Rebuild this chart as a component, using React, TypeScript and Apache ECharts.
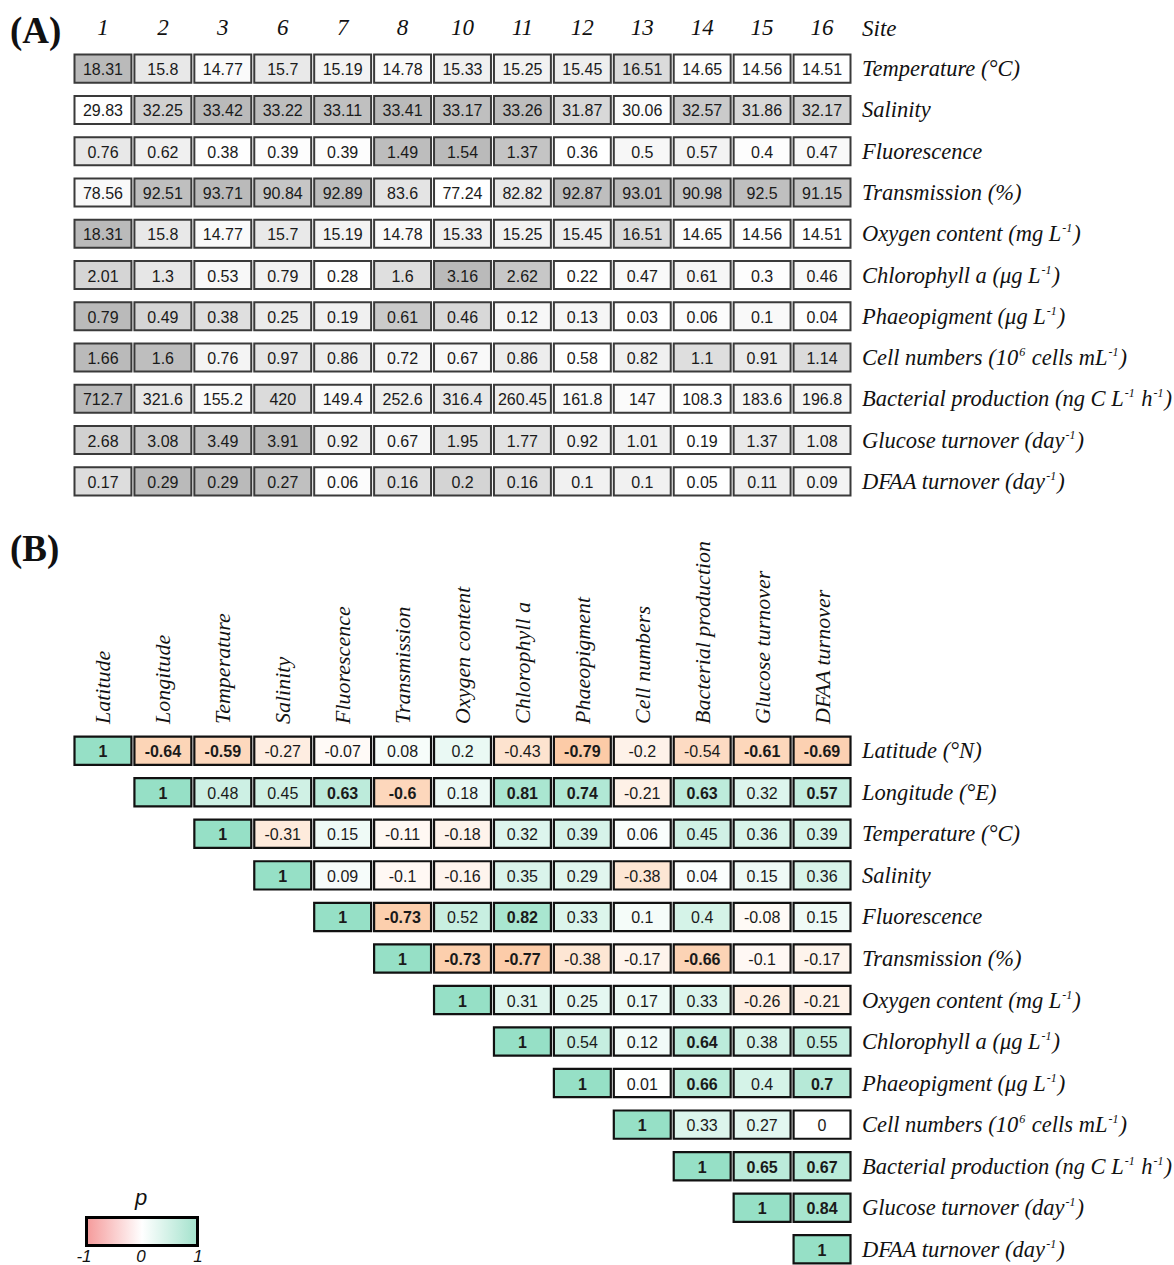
import React, { useEffect, useRef } from "react";
import * as echarts from "echarts";

// ---------- Panel A data ----------
const sites = ["1", "2", "3", "6", "7", "8", "10", "11", "12", "13", "14", "15", "16"];
const paramLabels = [
  "Temperature (°C)",
  "Salinity",
  "Fluorescence",
  "Transmission (%)",
  "Oxygen content (mg L⁻¹)",
  "Chlorophyll a (μg L⁻¹)",
  "Phaeopigment (μg L⁻¹)",
  "Cell numbers (10⁶ cells mL⁻¹)",
  "Bacterial production (ng C L⁻¹ h⁻¹)",
  "Glucose turnover (day⁻¹)",
  "DFAA turnover (day⁻¹)",
];
const temperature = [18.31, 15.8, 14.77, 15.7, 15.19, 14.78, 15.33, 15.25, 15.45, 16.51, 14.65, 14.56, 14.51];
const salinity = [29.83, 32.25, 33.42, 33.22, 33.11, 33.41, 33.17, 33.26, 31.87, 30.06, 32.57, 31.86, 32.17];
const fluorescence = [0.76, 0.62, 0.38, 0.39, 0.39, 1.49, 1.54, 1.37, 0.36, 0.5, 0.57, 0.4, 0.47];
const transmission = [78.56, 92.51, 93.71, 90.84, 92.89, 83.6, 77.24, 82.82, 92.87, 93.01, 90.98, 92.5, 91.15];
const oxygen = [18.31, 15.8, 14.77, 15.7, 15.19, 14.78, 15.33, 15.25, 15.45, 16.51, 14.65, 14.56, 14.51];
const chlorophyll = [2.01, 1.3, 0.53, 0.79, 0.28, 1.6, 3.16, 2.62, 0.22, 0.47, 0.61, 0.3, 0.46];
const phaeopigment = [0.79, 0.49, 0.38, 0.25, 0.19, 0.61, 0.46, 0.12, 0.13, 0.03, 0.06, 0.1, 0.04];
const cellNumbers = [1.66, 1.6, 0.76, 0.97, 0.86, 0.72, 0.67, 0.86, 0.58, 0.82, 1.1, 0.91, 1.14];
const bacterialProd = [712.7, 321.6, 155.2, 420, 149.4, 252.6, 316.4, 260.45, 161.8, 147, 108.3, 183.6, 196.8];
const glucoseTurn = [2.68, 3.08, 3.49, 3.91, 0.92, 0.67, 1.95, 1.77, 0.92, 1.01, 0.19, 1.37, 1.08];
const dfaaTurn = [0.17, 0.29, 0.29, 0.27, 0.06, 0.16, 0.2, 0.16, 0.1, 0.1, 0.05, 0.11, 0.09];
const panelARows = [
  temperature, salinity, fluorescence, transmission, oxygen, chlorophyll,
  phaeopigment, cellNumbers, bacterialProd, glucoseTurn, dfaaTurn,
];

// ---------- Panel B data ----------
const corrColLabels = [
  "Latitude", "Longitude", "Temperature", "Salinity", "Fluorescence", "Transmission",
  "Oxygen content", "Chlorophyll a", "Phaeopigment", "Cell numbers",
  "Bacterial production", "Glucose turnover", "DFAA turnover",
];
const corrRowLabels = [
  "Latitude (°N)", "Longitude (°E)", "Temperature (°C)", "Salinity", "Fluorescence",
  "Transmission (%)", "Oxygen content (mg L⁻¹)", "Chlorophyll a (μg L⁻¹)",
  "Phaeopigment (μg L⁻¹)", "Cell numbers (10⁶ cells mL⁻¹)",
  "Bacterial production (ng C L⁻¹ h⁻¹)", "Glucose turnover (day⁻¹)", "DFAA turnover (day⁻¹)",
];
// each row starts at the diagonal
const corrLatitude = [1, -0.64, -0.59, -0.27, -0.07, 0.08, 0.2, -0.43, -0.79, -0.2, -0.54, -0.61, -0.69];
const corrLongitude = [1, 0.48, 0.45, 0.63, -0.6, 0.18, 0.81, 0.74, -0.21, 0.63, 0.32, 0.57];
const corrTemperature = [1, -0.31, 0.15, -0.11, -0.18, 0.32, 0.39, 0.06, 0.45, 0.36, 0.39];
const corrSalinity = [1, 0.09, -0.1, -0.16, 0.35, 0.29, -0.38, 0.04, 0.15, 0.36];
const corrFluorescence = [1, -0.73, 0.52, 0.82, 0.33, 0.1, 0.4, -0.08, 0.15];
const corrTransmission = [1, -0.73, -0.77, -0.38, -0.17, -0.66, -0.1, -0.17];
const corrOxygen = [1, 0.31, 0.25, 0.17, 0.33, -0.26, -0.21];
const corrChlorophyll = [1, 0.54, 0.12, 0.64, 0.38, 0.55];
const corrPhaeopigment = [1, 0.01, 0.66, 0.4, 0.7];
const corrCellNumbers = [1, 0.33, 0.27, 0];
const corrBacterialProd = [1, 0.65, 0.67];
const corrGlucose = [1, 0.84];
const corrDfaa = [1];
const corrRows = [
  corrLatitude, corrLongitude, corrTemperature, corrSalinity, corrFluorescence,
  corrTransmission, corrOxygen, corrChlorophyll, corrPhaeopigment, corrCellNumbers,
  corrBacterialProd, corrGlucose, corrDfaa,
];
const boldThreshold = 0.56;
const legendTicks = ["-1", "0", "1"];

const SERIF = "Liberation Serif";
const SANS = "Liberation Sans";

function buildA() {
  const out: any[] = [];
  panelARows.forEach((row, r) => {
    const mn = Math.min(...row);
    const mx = Math.max(...row);
    row.forEach((v, c) => {
      out.push([c, r, v, mx === mn ? 0 : (v - mn) / (mx - mn)]);
    });
  });
  return out;
}

function buildB() {
  const out: any[] = [];
  corrRows.forEach((row, r) => {
    row.forEach((v, k) => {
      out.push([r + k, r, v]);
    });
  });
  return out;
}

// turn unicode superscripts into rich-text superscript fragments
function supFormat(label: string) {
  return label.replace(/⁻¹/g, "{s|-1}").replace(/⁶/g, "{s|6}");
}

function makeRender(stroke: string, lw: number, isB: boolean) {
  return (params: any, api: any) => {
    const c = api.coord([api.value(0), api.value(1)]);
    const s = api.size([1, 1]);
    const w = s[0] * 0.95;
    const h = s[1] * 0.68;
    const v = api.value(2);
    const bold = isB && Math.abs(v) > boldThreshold;
    return {
      type: "group",
      children: [
        {
          type: "rect",
          shape: { x: c[0] - w / 2, y: c[1] - h / 2, width: w, height: h },
          style: { fill: api.visual("color"), stroke, lineWidth: lw },
        },
        {
          type: "text",
          style: {
            text: String(v),
            x: c[0],
            y: c[1] + 1,
            align: "center",
            verticalAlign: "middle",
            fontFamily: SANS,
            fontSize: 16,
            fontWeight: bold ? "bold" : "normal",
            fill: "#1a1a1a",
          },
        },
      ],
    };
  };
}

export default function App() {
  const ref = useRef<HTMLDivElement>(null);
  useEffect(() => {
    if (!ref.current) return;
    const chart = echarts.init(ref.current, null, { renderer: "svg" });
    const axisLabelSerif = {
      fontFamily: SERIF,
      fontStyle: "italic",
      color: "#111",
    };
    const rowLabelStyle = {
      ...axisLabelSerif,
      fontSize: 22.5,
      margin: 10,
      interval: 0,
      formatter: supFormat,
      rich: {
        s: {
          fontFamily: SERIF,
          fontStyle: "italic",
          fontSize: 12,
          color: "#111",
          verticalAlign: "top",
          lineHeight: 12,
          padding: [0, 1, 0, 1],
        },
      },
    };
    const option: any = {
      animation: false,
      backgroundColor: "#ffffff",
      grid: [
        { left: 73, top: 48, width: 779, height: 454, containLabel: false, outerBoundsMode: "none" },
        { left: 73, top: 730, width: 779, height: 540, containLabel: false, outerBoundsMode: "none" },
      ],
      xAxis: [
        {
          gridIndex: 0, type: "category", data: sites, position: "top",
          axisLine: { show: false }, axisTick: { show: false }, splitLine: { show: false },
          axisLabel: { ...axisLabelSerif, fontSize: 23, margin: 9 },
        },
        {
          gridIndex: 1, type: "category", data: corrColLabels, position: "top",
          axisLine: { show: false }, axisTick: { show: false }, splitLine: { show: false },
          axisLabel: { ...axisLabelSerif, fontSize: 22, rotate: -90, margin: 6, interval: 0 },
        },
      ],
      yAxis: [
        {
          gridIndex: 0, type: "category", data: paramLabels, inverse: true, position: "right",
          axisLine: { show: false }, axisTick: { show: false }, splitLine: { show: false },
          axisLabel: rowLabelStyle,
        },
        {
          gridIndex: 1, type: "category", data: corrRowLabels, inverse: true, position: "right",
          axisLine: { show: false }, axisTick: { show: false }, splitLine: { show: false },
          axisLabel: rowLabelStyle,
        },
      ],
      visualMap: [
        {
          show: false, type: "continuous", seriesIndex: 0, dimension: 3, min: 0, max: 1,
          inRange: { color: ["#ffffff", "#bababa"] },
        },
        {
          show: false, type: "continuous", seriesIndex: 1, dimension: 2, min: -1, max: 1,
          inRange: { color: ["#fbbd8f", "#ffffff", "#96e0c6"] },
        },
      ],
      series: [
        {
          type: "custom", xAxisIndex: 0, yAxisIndex: 0, data: buildA(),
          renderItem: makeRender("#3a3a3a", 2, false),
        },
        {
          type: "custom", xAxisIndex: 1, yAxisIndex: 1, data: buildB(),
          renderItem: makeRender("#111111", 2.2, true),
        },
      ],
      graphic: [
        { type: "text", left: 10, top: 12, style: { text: "(A)", fontFamily: SERIF, fontWeight: "bold", fontSize: 37, fill: "#111" } },
        { type: "text", left: 10, top: 530, style: { text: "(B)", fontFamily: SERIF, fontWeight: "bold", fontSize: 37, fill: "#111" } },
        { type: "text", x: 862, y: 28, style: { text: "Site", fontFamily: SERIF, fontStyle: "italic", fontSize: 23, fill: "#111", verticalAlign: "middle" } },
        {
          type: "rect",
          shape: { x: 86.5, y: 1217.5, width: 111, height: 28 },
          style: {
            fill: {
              type: "linear", x: 0, y: 0, x2: 1, y2: 0,
              colorStops: [
                { offset: 0, color: "#f59a9a" },
                { offset: 0.5, color: "#ffffff" },
                { offset: 1, color: "#a2e2cc" },
              ],
            },
            stroke: "#000", lineWidth: 3,
          },
        },
        { type: "text", x: 141, y: 1197, style: { text: "p", fontFamily: SANS, fontStyle: "italic", fontSize: 22, fill: "#111", align: "center", verticalAlign: "middle" } },
        ...legendTicks.map((t, i) => ({
          type: "text",
          x: 84 + i * 57,
          y: 1265,
          style: { text: t, fontFamily: SANS, fontStyle: "italic", fontSize: 17, fill: "#111", align: "center", verticalAlign: "bottom" },
        })),
      ],
    };
    chart.setOption(option);
    return () => chart.dispose();
  }, []);
  return (
    <div
      ref={ref}
      style={{ position: "absolute", left: 0, top: 0, width: 1174, height: 1265, overflow: "hidden" }}
    />
  );
}
